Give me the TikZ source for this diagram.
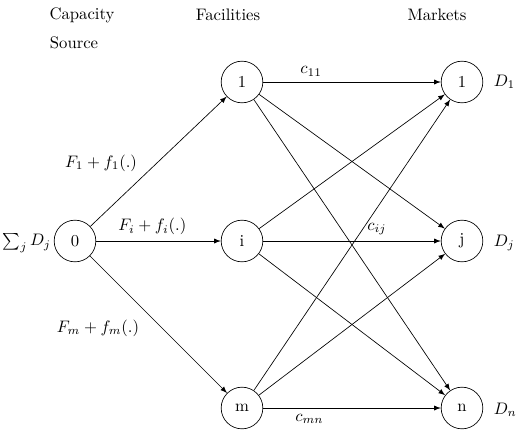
\documentclass[tikz,border=0pt]{standalone}
\usepackage{amsmath , amssymb}
\usepackage{tikz}
\usetikzlibrary{arrows}

\begin{document}
\begin{tikzpicture}[->, >=latex, thin, x=0.6pt, y=-0.6pt,
    site/.style={circle, draw, thin, minimum size=25pt, inner sep=0pt}]
    	\useasboundingbox (0,0) rectangle (523,439);
    	% column headings
    	\node (cap) at (82,15) {Capacity};
    	\node (src) at (74,43) {Source};
    	\node (fac) at (228,15) {Facilities};
    	\node (mkt) at (437,15) {Markets};
    	% source, facilities, markets
    	\node[site] (0) at (75,241) {0};
    	\node[site] (f1) at (242,82)  {1};
    	\node[site] (fi) at (242,241) {i};
    	\node[site] (fm) at (242,408) {m};
    	\node[site] (m1) at (462,82)  {1};
    	\node[site] (mj) at (462,241) {j};
    	\node[site] (mn) at (462,408) {n};
    	\node[anchor=east, inner sep=1pt] (sum) at (53,243) {$\sum_j D_j$};
    	\node[anchor=west] (d1) at (488,82) {$D_1$};
    	\node[anchor=west] (dj) at (488,243) {$D_j$};
    	\node[anchor=west] (dn) at (488,410) {$D_n$};
    	% opening costs
    	\draw 	(0) edge (f1)
    		(0) edge node[pos=0.45, above] {$F_i + f_i(.)$} (fi)
    		(0) edge (fm);
    	\node (lf1) at (101,163) {$F_1 + f_1(.)$};
    	\node (lfm) at (98,328) {$F_m + f_m(.)$};
    	% transport costs
    	\draw 	(f1) edge node[pos=0.27, above] {$c_{11}$} (m1)
    		(f1) edge (mj)
    		(f1) edge (mn)
    		(fi) edge (m1)
    		(fi) edge node[pos=0.64, above] {$c_{ij}$} (mj)
    		(fi) edge (mn)
    		(fm) edge (m1)
    		(fm) edge (mj)
    		(fm) edge node[pos=0.26, below] {$c_{mn}$} (mn);
    \end{tikzpicture}
\end{document}
